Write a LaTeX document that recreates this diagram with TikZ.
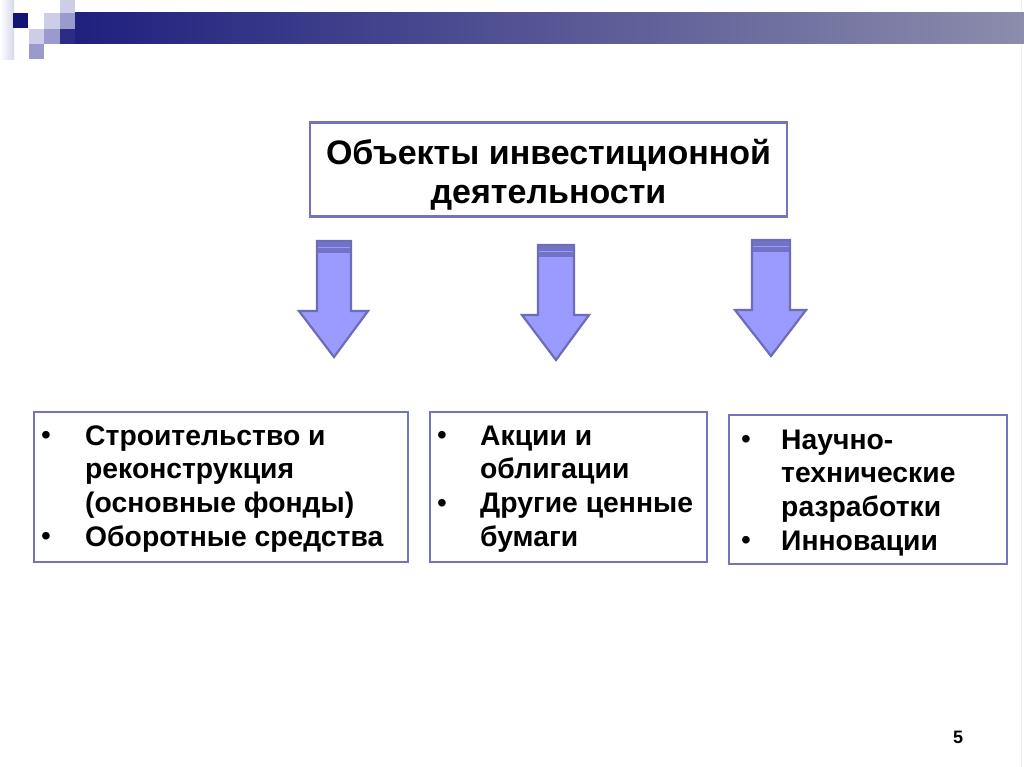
\documentclass[tikz,border=0pt]{standalone}
\usepackage{fontspec}
\setmainfont{Liberation Sans}
\usepackage{array}
\definecolor{boxline}{HTML}{7474BE}
\definecolor{arrfill}{HTML}{9A9AFF}
\definecolor{arrline}{HTML}{6C6CBA}
\definecolor{arrband}{HTML}{7272C6}
\definecolor{navy}{HTML}{141478}
\definecolor{barend}{HTML}{8C8CAC}
\definecolor{sqlight}{HTML}{CDCDE8}
\definecolor{sqmid}{HTML}{9A9ACC}
\newcommand\blt{\raisebox{0.5pt}{\fontsize{28}{28}\selectfont\mdseries •}}
\tikzset{
  framebox/.style={draw=boxline, line width=2.6pt, fill=white, inner sep=0pt},
  barrow/.style={draw=arrline, fill=arrfill, line width=2.2pt, line join=miter},
  bodytext/.style={inner sep=0pt, font=\fontsize{28.3}{33.8}\selectfont\bfseries},
  titletext/.style={inner sep=0pt, font=\fontsize{34}{39}\selectfont\bfseries},
}
\begin{document}
\begin{tikzpicture}[x=1pt,y=-1pt]
\useasboundingbox (0,0) rectangle (1024,767);
\fill[white] (0,0) rectangle (1024,767);
\draw[black!6, line width=1pt] (1021,0) -- (1021,767);
% header decoration
\shade[left color=white, right color=sqlight!80] (0,0) rectangle (14,60);
\fill[navy] (13,13) rectangle (28,28);
\fill[sqlight] (44,13) rectangle (60,29);
\fill[sqmid] (60,13) rectangle (75,29);
\fill[sqlight] (60,0) rectangle (75,13);
\fill[sqmid] (44,29) rectangle (60,44);
\fill[sqlight] (29,29) rectangle (44,44);
\fill[sqmid] (29,44) rectangle (44,59);
\shade[left color=navy!95!white, right color=barend] (75,13) rectangle (1024,44);
\fill[navy!90!white] (60,29) rectangle (75,44);
% title box
\node[framebox, minimum width=477pt, minimum height=94pt] (title) at (548.5,169.5) {};
\node[titletext, anchor=base] (titletxt) at (548.5,164.5)
  {\begin{tabular}[t]{@{}c@{}}Объекты инвестиционной\\деятельности\end{tabular}};
% arrows
\coordinate (a1) at (334,241);
\coordinate (a2) at (556,245);
\coordinate (a3) at (771,240);
\draw[barrow] (317,241) -- (351,241) -- (351,311) -- (368,311) -- (334,357) -- (299,311) -- (317,311) -- cycle;
\fill[arrband] (318.2,242) rectangle (349.8,247);
\fill[arrband] (318.2,248.3) rectangle (349.8,253);
\draw[barrow] (538,245) -- (574,245) -- (574,315) -- (589,315) -- (556,360) -- (522,315) -- (538,315) -- cycle;
\fill[arrband] (539.2,246) rectangle (572.8,251);
\fill[arrband] (539.2,252.3) rectangle (572.8,257);
\draw[barrow] (752,240) -- (790,240) -- (790,310) -- (806,310) -- (771,356) -- (735,310) -- (752,310) -- cycle;
\fill[arrband] (753.2,241) rectangle (788.8,246);
\fill[arrband] (753.2,247.3) rectangle (788.8,252);
% bottom boxes
\node[framebox, minimum width=374pt, minimum height=150pt] (b1) at (221,487) {};
\node[framebox, minimum width=277pt, minimum height=150pt] (b2) at (568.5,487) {};
\node[framebox, minimum width=278pt, minimum height=149pt] (b3) at (868,489.5) {};
\node[bodytext, anchor=base west] (t1) at (41,445)
  {\begin{tabular}[t]{@{}p{44pt}@{}l@{}}\blt&Строительство и\\&реконструкция\\&(основные фонды)\\\blt&Оборотные средства\end{tabular}};
\node[bodytext, anchor=base west] (t2) at (437,445)
  {\begin{tabular}[t]{@{}p{43pt}@{}l@{}}\blt&Акции и\\&облигации\\\blt&Другие ценные\\&бумаги\end{tabular}};
\node[bodytext, anchor=base west] (t3) at (741,449)
  {\begin{tabular}[t]{@{}p{40pt}@{}l@{}}\blt&Научно-\\&технические\\&разработки\\\blt&Инновации\end{tabular}};
% page number
\node[inner sep=0pt, font=\fontsize{18}{20}\selectfont\bfseries] (pg) at (958,737) {5};
\end{tikzpicture}
\end{document}
